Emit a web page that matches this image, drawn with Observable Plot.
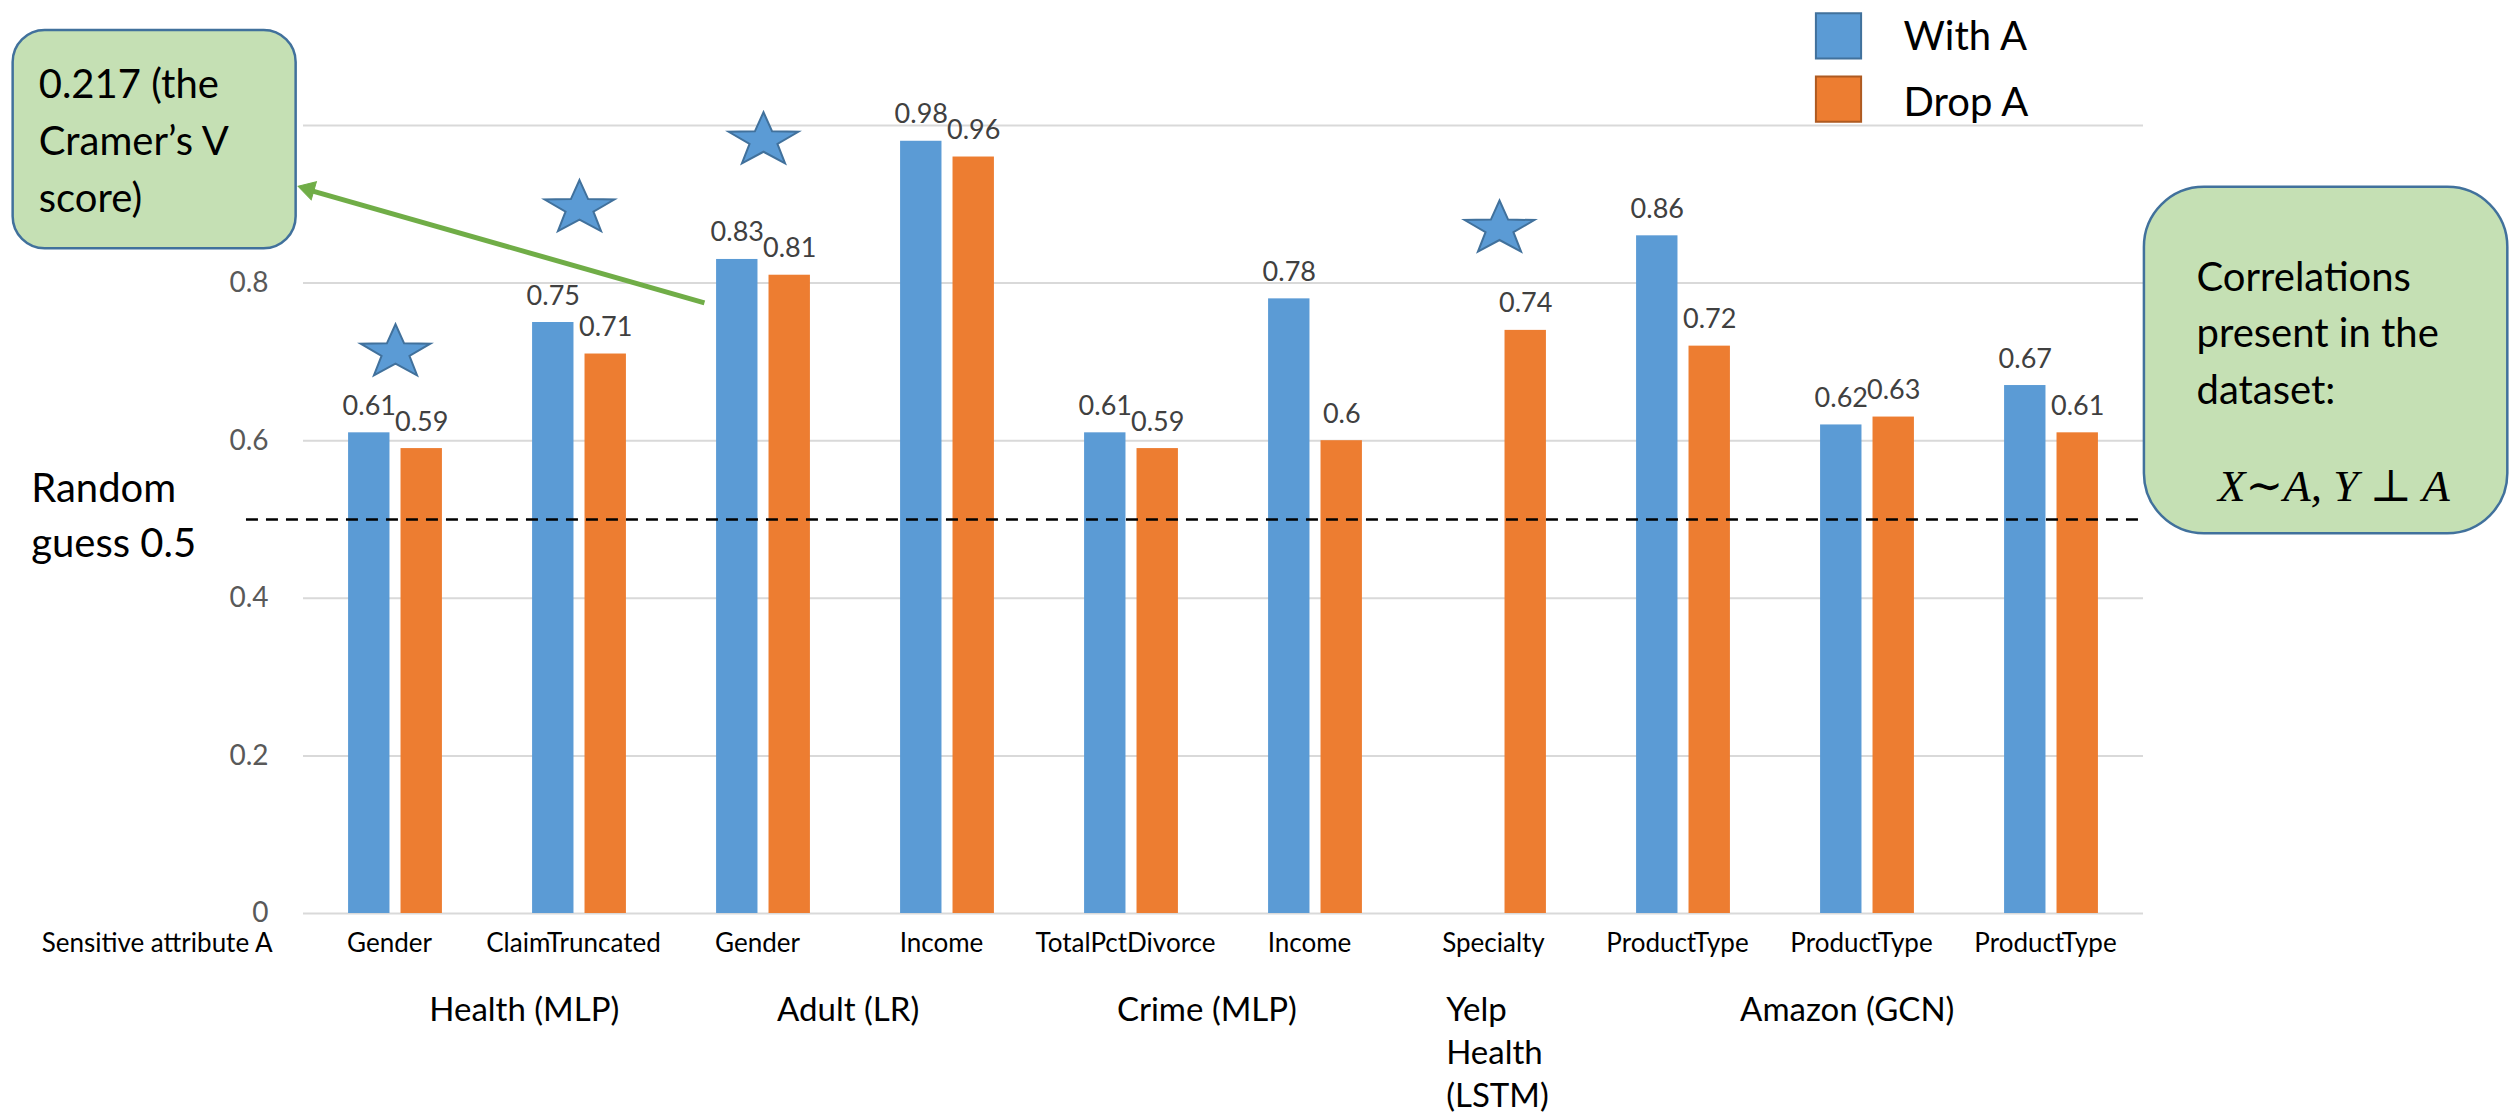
<!DOCTYPE html>
<html>
<head>
<meta charset="utf-8">
<script src="https://cdn.jsdelivr.net/npm/d3@7"></script>
<script src="https://cdn.jsdelivr.net/npm/@observablehq/plot@0.6"></script>
<style>
  html, body { margin: 0; padding: 0; background: #fff; }
  #chart svg { display: block; }
</style>
</head>
<body>
<div id="chart"></div>
<script>
// ---- data ----
const attributes = ["Gender", "ClaimTruncated", "Gender", "Income", "TotalPctDivorce", "Income", "Specialty", "ProductType", "ProductType", "ProductType"];
const series = ["With A", "Drop A"];
const withA = [0.61, 0.75, 0.83, 0.98, 0.61, 0.78, null, 0.86, 0.62, 0.67];
const dropA = [0.59, 0.71, 0.81, 0.96, 0.59, 0.60, 0.74, 0.72, 0.63, 0.61];
const datasets = ["Health (MLP)", "Adult (LR)", "Crime (MLP)", "Yelp\nHealth\n(LSTM)", "Amazon (GCN)"];
const starGroups = [0, 1, 2, 6];
const yTicks = [0, 0.2, 0.4, 0.6, 0.8];
const gridLevels = [0, 0.2, 0.4, 0.6, 0.8, 1];
const randomGuess = 0.5;
const cramerV = 0.217;

// ---- annotation layout (in chart units: group index / score) ----
const datasetAnchor = [0.7, 2.46, 4.41, 5.71, 7.89];
const starLevels = [0.712, 0.895, 0.981, 0.869];
const barOffset = {"With A": [-0.255, -0.03], "Drop A": [0.03, 0.255]};

const rows = [];
attributes.forEach((a, i) => {
  if (withA[i] != null) rows.push({group: i, series: "With A", value: withA[i]});
  if (dropA[i] != null) rows.push({group: i, series: "Drop A", value: dropA[i]});
});
const groupLabels = datasets.map((label, k) => ({label, pos: datasetAnchor[k]}));
const stars = starGroups.map((g, k) => ({group: g, level: starLevels[k]}));

const BLUE = "#5b9bd5", ORANGE = "#ed7d31", GREEN_FILL = "#c5e0b4", BOX_STROKE = "#41719c", ARROW = "#70ad47";
const legendStroke = ["#41719c", "#ae5a21"];

// horizontally stretched five-point star
const starSymbol = {
  draw(context, size) {
    const R = Math.sqrt(size / Math.PI), r = R * 0.4, sx = 1.3;
    for (let k = 0; k < 10; ++k) {
      const rad = k % 2 ? r : R;
      const a = -Math.PI / 2 + k * Math.PI / 5;
      const px = sx * rad * Math.cos(a), py = rad * Math.sin(a);
      if (k) context.lineTo(px, py); else context.moveTo(px, py);
    }
    context.closePath();
  }
};

// arrow from the Adult/Gender bar to the Cramer's V box
const arrowLine = [{x1: 1.679, y1: 0.775, x2: -0.468, y2: 0.918}];
const arrowTip = [{x: -0.4723, y: 0.9191}];

const chart = Plot.plot({
  width: 2511,
  height: 1117,
  marginLeft: 303,
  marginRight: 368,
  marginTop: 125,
  marginBottom: 204,
  style: {fontFamily: "Lato, 'Open Sans', sans-serif", background: "white", overflow: "visible"},
  x: {type: "linear", domain: [-0.5, attributes.length - 0.5], axis: null},
  y: {domain: [0, 1], axis: null},
  color: {domain: series, range: [BLUE, ORANGE]},
  marks: [
    Plot.gridY(gridLevels, {stroke: "#d9d9d9", strokeOpacity: 1, strokeWidth: 2}),
    Plot.axisY(yTicks, {tickSize: 0, tickPadding: 35, fontSize: 28, color: "#595959", tickFormat: d => String(d), label: null}),
    Plot.axisX(d3.range(attributes.length), {tickSize: 0, tickPadding: 20, dx: -6, fontSize: 26, color: "#000", tickFormat: i => attributes[i], label: null}),
    Plot.text(["Sensitive attribute A"], {frameAnchor: "bottom-left", textAnchor: "end", lineAnchor: "bottom", dx: -31, dy: 38, fontSize: 26, fill: "#000"}),
    Plot.rectY(rows, {
      x1: d => d.group + barOffset[d.series][0],
      x2: d => d.group + barOffset[d.series][1],
      y: "value",
      fill: "series"
    }),
    Plot.ruleY([randomGuess], {x1: () => -0.81, x2: () => attributes.length - 0.5, stroke: "#000", strokeWidth: 2.5, strokeDasharray: "12,8"}),
    Plot.text(rows, {
      x: d => d.group + (barOffset[d.series][0] + barOffset[d.series][1]) / 2,
      y: "value",
      text: d => String(d.value),
      dy: -18, lineAnchor: "bottom", fontSize: 27, fill: "#404040"
    }),
    Plot.dot(stars, {x: "group", y: "level", r: 28.2, symbol: starSymbol, fill: BLUE, stroke: BOX_STROKE, strokeWidth: 2}),
    // dataset labels
    Plot.text(groupLabels.filter(d => !d.label.includes("\n")), {x: "pos", text: "label", frameAnchor: "bottom", lineAnchor: "top", lineHeight: 1.3, dy: 77, fontSize: 33, fill: "#000"}),
    Plot.text(groupLabels.filter(d => d.label.includes("\n")), {x: "pos", text: "label", frameAnchor: "bottom", textAnchor: "start", lineAnchor: "top", lineHeight: 1.3, dy: 77, fontSize: 33, fill: "#000"}),
    // random guess label
    Plot.text([`Random\nguess ${randomGuess}`], {x: () => -1.98, y: () => 0.452, textAnchor: "start", lineAnchor: "bottom", lineHeight: 1.39, fontSize: 40, fill: "#000"}),
    // Cramer's V box + arrow
    Plot.rect([{x1: -2.078, x2: -0.540, y1: 0.8435, y2: 1.1206}], {x1: "x1", x2: "x2", y1: "y1", y2: "y2", rx: 32, fill: GREEN_FILL, stroke: BOX_STROKE, strokeWidth: 2.5}),
    Plot.text([`${cramerV} (the\nCramer’s V\nscore)`], {x: () => -1.939, y: () => 0.890, textAnchor: "start", lineAnchor: "bottom", lineHeight: 1.425, fontSize: 40, fill: "#000"}),
    Plot.link(arrowLine, {x1: "x1", y1: "y1", x2: "x2", y2: "y2", stroke: ARROW, strokeWidth: 5}),
    Plot.dot(arrowTip, {x: "x", y: "y", symbol: "triangle", r: 7, rotate: -74, fill: ARROW, stroke: ARROW, strokeWidth: 1}),
    // correlations box
    Plot.rect([{x1: 9.505, x2: 11.48, y1: 0.482, y2: 0.9217}], {x1: "x1", x2: "x2", y1: "y1", y2: "y2", rx: 60, fill: GREEN_FILL, stroke: BOX_STROKE, strokeWidth: 2.5}),
    Plot.text(["Correlations\npresent in the\ndataset:"], {x: () => 9.788, y: () => 0.6467, textAnchor: "start", lineAnchor: "bottom", lineHeight: 1.417, fontSize: 40, fill: "#000"}),
    Plot.text(["X∼A, Y ⊥ A"], {x: () => 9.905, y: () => 0.524, textAnchor: "start", lineAnchor: "bottom", fontSize: 45, fontStyle: "italic", fontFamily: "'Liberation Serif', 'DejaVu Serif', serif", fill: "#000"}),
    // legend
    ...series.map((s, k) => Plot.dot([s], {frameAnchor: "top-left", dx: 1535, dy: -89.6 + k * 63.3, symbol: "square", r: 25.5, fill: d => d, stroke: legendStroke[k], strokeWidth: 2})),
    ...series.map((s, k) => Plot.text([s], {frameAnchor: "top-left", dx: 1600, dy: -75.7 + k * 65.7, text: d => d, textAnchor: "start", lineAnchor: "bottom", fontSize: 40, fill: "#000"}))
  ]
});
document.getElementById("chart").appendChild(chart);
</script>
</body>
</html>
